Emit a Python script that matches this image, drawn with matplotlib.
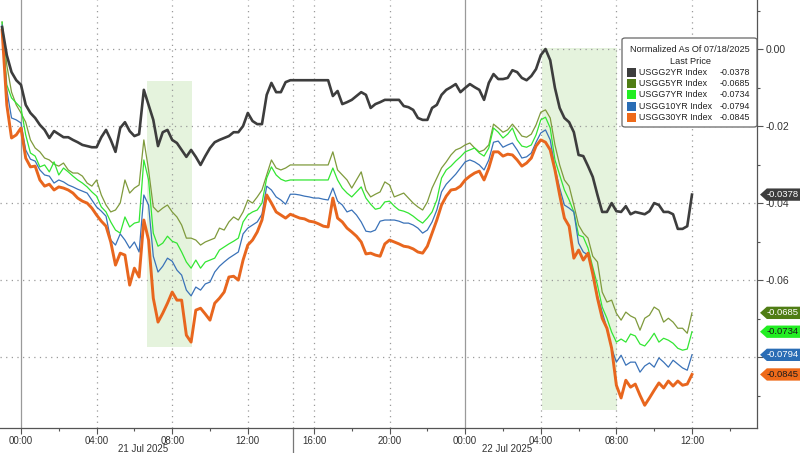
import matplotlib
matplotlib.use("Agg")
import matplotlib.pyplot as plt
import numpy as np
from matplotlib.patches import Polygon, Rectangle, FancyBboxPatch
from matplotlib.transforms import blended_transform_factory

plt.rcParams["font.family"] = ["Liberation Sans", "DejaVu Sans"]

# normalized changes since 07/18/2025, in units of 1e-4, sampled every 15 min
# (chart time, with the session break squeezed out)
usgg2 = [57, -16, -60, -81, -93, -145, -166, -179, -197, -210,
         -231, -213, -221, -229, -229, -236, -242, -249, -252, -255,
         -255, -229, -210, -236, -267, -205, -190, -213, -226, -221,
         -106, -145, -184, -252, -216, -210, -236, -244, -262, -280,
         -262, -280, -301, -278, -257, -242, -236, -231, -226, -216,
         -216, -200, -166, -187, -195, -195, -119, -88, -112, -112,
         -86, -81, -81, -81, -81, -81, -81, -81, -81, -81,
         -122, -109, -143, -138, -132, -122, -112, -119, -153, -143,
         -138, -132, -132, -132, -132, -148, -151, -158, -179, -184,
         -184, -153, -145, -119, -106, -99, -91, -112, -101, -91,
         -99, -106, -132, -88, -65, -78, -78, -75, -55, -60,
         -75, -81, -70, -52, -16, 0, -29, -101, -153, -179,
         -190, -216, -275, -278, -304, -332, -379, -423, -423, -400,
         -421, -423, -408, -429, -423, -426, -429, -421, -400, -405,
         -423, -423, -429, -467, -467, -460, -378]
usgg5 = [70, -42, -112, -145, -166, -190, -236, -257, -267, -283,
         -288, -299, -304, -296, -314, -322, -322, -330, -348, -356,
         -340, -379, -405, -423, -418, -400, -340, -374, -361, -353,
         -236, -314, -410, -423, -413, -405, -423, -436, -457, -491,
         -491, -496, -509, -501, -496, -491, -465, -470, -449, -436,
         -444, -423, -392, -400, -384, -366, -327, -288, -309, -314,
         -309, -301, -301, -301, -301, -301, -301, -301, -301, -301,
         -267, -314, -327, -340, -361, -340, -319, -366, -384, -377,
         -371, -345, -353, -384, -379, -374, -387, -400, -410, -418,
         -397, -361, -335, -309, -293, -275, -262, -257, -249, -244,
         -257, -267, -262, -249, -195, -205, -216, -210, -195, -210,
         -226, -229, -221, -197, -164, -158, -179, -249, -301, -340,
         -356, -405, -457, -478, -491, -538, -553, -631, -657, -652,
         -686, -704, -683, -693, -699, -730, -699, -691, -670, -678,
         -709, -699, -709, -725, -725, -738, -685]
usgg7 = [70, -93, -127, -140, -153, -223, -270, -278, -306, -301,
         -319, -293, -327, -309, -319, -330, -340, -348, -358, -371,
         -382, -410, -423, -449, -470, -478, -436, -462, -452, -449,
         -288, -340, -478, -512, -504, -486, -499, -504, -527, -553,
         -569, -548, -569, -553, -548, -543, -522, -514, -506, -499,
         -491, -449, -431, -423, -418, -400, -335, -306, -327, -338,
         -343, -340, -340, -340, -340, -340, -340, -340, -340, -340,
         -309, -340, -361, -374, -384, -371, -358, -387, -403, -416,
         -413, -397, -395, -408, -418, -421, -426, -434, -444, -452,
         -439, -423, -392, -335, -314, -304, -291, -280, -267, -262,
         -257, -270, -278, -257, -205, -216, -231, -221, -205, -236,
         -252, -255, -249, -223, -184, -177, -205, -288, -327, -366,
         -392, -423, -483, -488, -517, -566, -613, -670, -699, -735,
         -761, -753, -761, -740, -745, -766, -771, -756, -738, -761,
         -751, -756, -764, -777, -782, -779, -734]
usgg10 = [62, -106, -179, -184, -192, -262, -286, -291, -314, -327,
          -330, -348, -340, -345, -353, -358, -364, -369, -374, -392,
          -410, -421, -434, -496, -509, -480, -496, -517, -501, -527,
          -379, -405, -538, -579, -564, -543, -551, -574, -587, -626,
          -641, -618, -626, -610, -605, -579, -564, -553, -543, -535,
          -527, -480, -465, -457, -449, -429, -356, -366, -384, -392,
          -403, -377, -377, -379, -382, -384, -387, -387, -390, -392,
          -361, -395, -405, -423, -418, -431, -449, -473, -475, -470,
          -447, -444, -444, -444, -447, -452, -452, -457, -465, -478,
          -470, -449, -418, -371, -351, -338, -325, -309, -293, -288,
          -293, -301, -314, -288, -242, -239, -255, -249, -244, -262,
          -283, -280, -270, -242, -218, -210, -236, -309, -361, -405,
          -413, -423, -504, -527, -535, -574, -641, -683, -725, -777,
          -813, -795, -821, -813, -813, -839, -823, -815, -826, -802,
          -813, -826, -808, -818, -828, -834, -794]
usgg30 = [49, -145, -231, -223, -205, -283, -306, -304, -340, -356,
          -351, -366, -358, -361, -366, -374, -387, -395, -400, -413,
          -431, -447, -460, -501, -561, -530, -535, -613, -569, -592,
          -444, -496, -647, -709, -686, -660, -631, -652, -652, -743,
          -761, -678, -673, -688, -704, -660, -647, -631, -592, -590,
          -600, -548, -509, -496, -475, -444, -379, -400, -423, -431,
          -439, -429, -434, -439, -441, -447, -449, -454, -460, -462,
          -387, -439, -449, -465, -475, -486, -501, -532, -530, -535,
          -538, -506, -496, -501, -506, -512, -514, -519, -527, -530,
          -512, -478, -444, -405, -382, -366, -364, -356, -340, -330,
          -322, -317, -340, -309, -267, -267, -278, -273, -275, -288,
          -304, -296, -283, -252, -236, -242, -262, -314, -379, -439,
          -460, -543, -522, -548, -530, -584, -647, -699, -725, -777,
          -873, -906, -860, -878, -870, -899, -925, -906, -886, -867,
          -880, -862, -875, -862, -873, -870, -845]

names = ["USGG2YR Index", "USGG5YR Index", "USGG7YR Index",
         "USGG10YR Index", "USGG30YR Index"]
last_price = [-0.0378, -0.0685, -0.0734, -0.0794, -0.0845]
line_colors = ["#3d3d3d", "#7f9a3c", "#33e633", "#3a72b8", "#e8661e"]
swatch_colors = ["#3d3d3d", "#4f7d14", "#22ee22", "#2a6db5", "#ee6a1a"]
tag_text = ["white", "white", "#1a1a1a", "white", "#1a1a1a"]
widths = [1.9, 0.9, 0.9, 0.9, 2.1]

y_ticks = [0, -0.02, -0.04, -0.06, -0.08]
tick_pos = [0, 4, 8, 12, 15.5, 19.5, 23.5, 27.5, 31.5, 35.5]
tick_lab = ["00:00", "04:00", "08:00", "12:00", "16:00", "20:00",
            "00:00", "04:00", "08:00", "12:00"]
day_lines = [0, 23.5]
day_labels = [(6.45, "21 Jul 2025"), (25.7, "22 Jul 2025")]
session_break = 14.4

series = [np.array(s) / 1e4 for s in (usgg2, usgg5, usgg7, usgg10, usgg30)]
hours = -1.0 + 0.25 * np.arange(len(usgg2))

fig = plt.figure(figsize=(8, 4.53), dpi=100)
ax = fig.add_axes([0, 25 / 453, 757 / 800, 428 / 453])
ax.set_xlim(-1.11, 38.94)
ax.set_ylim(-0.0984, 0.01273)

# highlighted windows
ax.add_patch(Rectangle((6.67, -0.0774), 2.38, 0.0691, fc="#e5f3dd", ec="none", zorder=0))
ax.add_patch(Rectangle((27.57, -0.0938), 3.96, 0.0941, fc="#e5f3dd", ec="none", zorder=0))

# grid
for v in y_ticks:
    ax.axhline(v, color="#9a9a9a", lw=0.9, ls=(0, (1, 3.5)), zorder=1)
for t in tick_pos + [session_break]:
    if t in day_lines:
        ax.axvline(t, color="#9a9a9a", lw=0.9, zorder=1)
    else:
        ax.axvline(t, color="#9a9a9a", lw=0.9, ls=(0, (1, 3.5)), zorder=1)

for k in [1, 2, 3, 4, 0]:
    ax.plot(hours, series[k], color=line_colors[k], lw=widths[k], zorder=3 + (k == 0))

for s in ["top", "left"]:
    ax.spines[s].set_visible(False)
for s in ["right", "bottom"]:
    ax.spines[s].set_color("#555555")
    ax.spines[s].set_linewidth(0.9)

# -0.08 sits under the last-price tags, as in the original
ax.yaxis.tick_right()
ax.set_yticks(y_ticks)
ax.set_yticklabels([f"{v:.2f}" if v > -0.07 else "" for v in y_ticks])
ax.set_yticks([0.01, -0.01, -0.03, -0.05, -0.07, -0.09], minor=True)
ax.tick_params(axis="y", which="major", length=4, width=0.8, colors="#555555",
               labelcolor="#333333", labelsize=7.5, pad=2)
ax.tick_params(axis="y", which="minor", length=2.5, width=0.8, colors="#555555")

ax.set_xticks(tick_pos)
ax.set_xticklabels(tick_lab)
ax.set_xticks([2, 6, 10, 17.5, 21.5, 25.5, 29.5, 33.5, 37.5], minor=True)
ax.tick_params(axis="x", which="major", length=4, width=0.8, colors="#555555",
               labelcolor="#333333", labelsize=7, pad=1.5)
ax.tick_params(axis="x", which="minor", length=2.5, width=0.8, colors="#555555")

bt = blended_transform_factory(ax.transData, ax.transAxes)
for t, lab in day_labels:
    ax.text(t, -0.049, lab, transform=bt, ha="center", va="center",
            fontsize=7, color="#333333")
ax.plot([session_break, session_break], [0, -0.06], transform=bt,
        color="#777777", lw=0.9, clip_on=False)

# last-price tags on the right axis
rt = blended_transform_factory(ax.transAxes, ax.transData)
h = 0.0016
for k in range(5):
    v = last_price[k]
    poly = Polygon([(1.004, v), (1.013, v + h), (1.06, v + h), (1.06, v - h), (1.013, v - h)],
                   closed=True, transform=rt, fc=swatch_colors[k], ec="none",
                   clip_on=False, zorder=10)
    ax.add_patch(poly)
    ax.text(1.034, v, f"{v:.4f}", transform=rt, ha="center", va="center",
            fontsize=6.8, color=tag_text[k], zorder=11, clip_on=False)

# legend box
def fp(x, y):
    return x / 800, 1 - y / 453

x0, y0 = fp(622, 127)
x1, y1 = fp(757, 38)
fig.patches.append(FancyBboxPatch((x0, y0), x1 - x0, y1 - y0, transform=fig.transFigure,
                                  boxstyle="round,pad=0,rounding_size=0.004",
                                  fc="white", ec="#666666", lw=0.9, zorder=20))
fig.text(*fp(690, 50), "Normalized As Of 07/18/2025", ha="center", va="center",
         fontsize=6.6, color="#222222", zorder=21)
fig.text(*fp(690, 61), "Last Price", ha="center", va="center",
         fontsize=6.6, color="#222222", zorder=21)
for k in range(5):
    yy = 72.5 + 11.2 * k
    sx, sy = fp(627, yy + 4.5)
    fig.patches.append(Rectangle((sx, sy), 9 / 800, 9 / 453, transform=fig.transFigure,
                                 fc=swatch_colors[k], ec="none", zorder=21))
    fig.text(*fp(639, yy), names[k], ha="left", va="center", fontsize=6.4,
             color="#222222", zorder=21)
    fig.text(*fp(750, yy), f"{last_price[k]:.4f}", ha="right", va="center",
             fontsize=6.4, color="#222222", zorder=21)

fig.savefig("out.png", dpi=100)
